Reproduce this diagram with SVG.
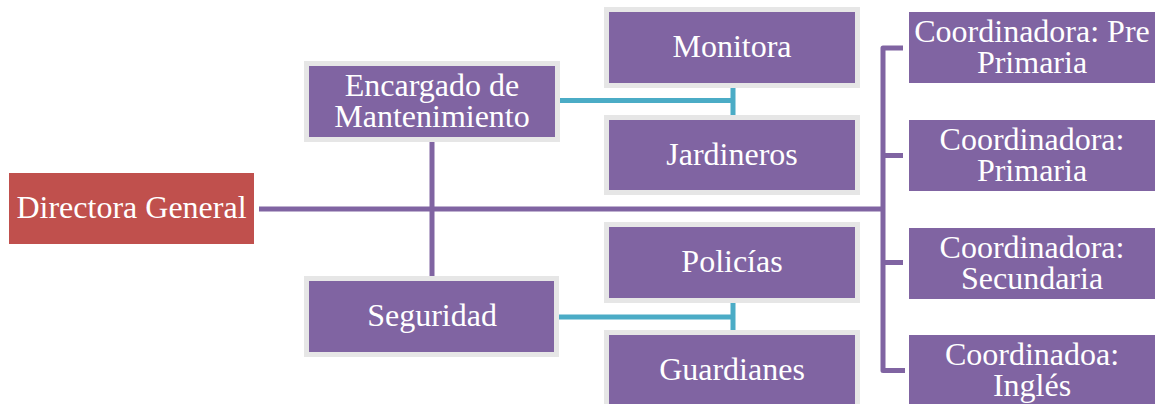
<svg xmlns="http://www.w3.org/2000/svg" width="1157" height="404" viewBox="0 0 1157 404">
<style>
.bx{fill:#8064A2;stroke:#E6E6E6;stroke-width:5}
.bp{fill:#8064A2}
.red{fill:#C0504D}
.t{font-family:"Liberation Serif","Times New Roman",serif;font-size:32px;fill:#FFFFFF;text-anchor:middle}
.pl{fill:none;stroke:#8064A2;stroke-width:5;stroke-linejoin:round;stroke-linecap:butt}
.cy{fill:none;stroke:#4BACC6;stroke-width:5}
</style>
<rect width="1157" height="404" fill="#FFFFFF"/>
<g id="connectors">
<path class="pl" d="M259,209 H883"/>
<path class="pl" d="M432,141 V276"/>
<path class="pl" d="M903,48 H883 V370.5 H905"/>
<path class="pl" d="M883,155.5 H903 M883,262.5 H903"/>
<path class="cy" d="M559,100.5 H733 M733,88 V115"/>
<path class="cy" d="M559,317 H733 M733,303 V330"/>
</g>
<g id="directora">
<rect class="red" x="9" y="173" width="245" height="71"/>
<text class="t" x="131.5" y="218">Directora General</text>
</g>
<g id="encargado">
<rect class="bx" x="306.5" y="63.5" width="251" height="76"/>
<text class="t" x="432" y="95.5">Encargado de</text>
<text class="t" x="432" y="126.5">Mantenimiento</text>
</g>
<g id="seguridad">
<rect class="bx" x="306.5" y="278.5" width="250" height="76"/>
<text class="t" x="432" y="326">Seguridad</text>
</g>
<g id="monitora">
<rect class="bx" x="606.5" y="9.5" width="251" height="76"/>
<text class="t" x="732" y="57">Monitora</text>
</g>
<g id="jardineros">
<rect class="bx" x="606.5" y="117.5" width="251" height="75"/>
<text class="t" x="732" y="165">Jardineros</text>
</g>
<g id="policias">
<rect class="bx" x="606.5" y="224.5" width="251" height="76"/>
<text class="t" x="732" y="272">Policías</text>
</g>
<g id="guardianes">
<rect class="bx" x="606.5" y="332.5" width="251" height="76"/>
<text class="t" x="732" y="380">Guardianes</text>
</g>
<g id="coord-preprimaria">
<rect class="bp" x="909" y="12" width="246" height="71"/>
<text class="t" x="1032" y="42">Coordinadora: Pre</text>
<text class="t" x="1032" y="73">Primaria</text>
</g>
<g id="coord-primaria">
<rect class="bp" x="909" y="120" width="246" height="71"/>
<text class="t" x="1032" y="150">Coordinadora:</text>
<text class="t" x="1032" y="181">Primaria</text>
</g>
<g id="coord-secundaria">
<rect class="bp" x="909" y="228" width="246" height="71"/>
<text class="t" x="1032" y="257.5">Coordinadora:</text>
<text class="t" x="1032" y="288.5">Secundaria</text>
</g>
<g id="coord-ingles">
<rect class="bp" x="909" y="335" width="246" height="71"/>
<text class="t" x="1032" y="365">Coordinadoa:</text>
<text class="t" x="1032" y="396">Inglés</text>
</g>
</svg>
